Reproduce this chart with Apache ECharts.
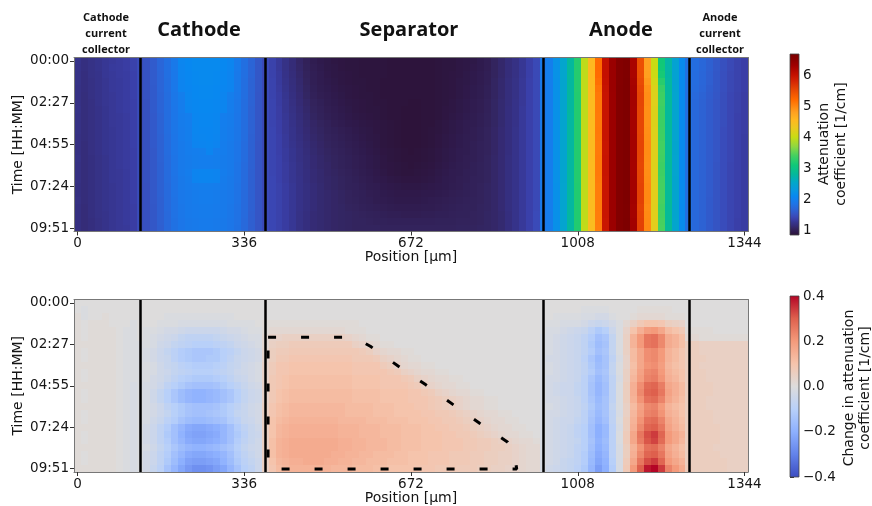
<!DOCTYPE html>
<html>
<head>
<meta charset="utf-8">
<script src="https://cdn.jsdelivr.net/npm/echarts@6/dist/echarts.min.js"></script>
<style>html,body{margin:0;padding:0;background:#fff}#chart{width:872px;height:506px}</style>
</head>
<body>
<div id="chart"></div>
<script>
// ---------- axes / ticks ----------
const positions = [0,14,28,42,56,70,84,98,112,126,140,154,168,182,196,210,224,238,252,266,280,294,308,322,336,350,364,378,392,406,420,434,448,462,476,490,504,518,532,546,560,574,588,602,616,630,644,658,672,686,700,714,728,742,756,770,784,798,812,826,840,854,868,882,896,910,924,938,952,966,980,994,1008,1022,1036,1050,1064,1078,1092,1106,1120,1134,1148,1162,1176,1190,1204,1218,1232,1246,1260,1274,1288,1302,1316,1330,1344];
const frameTimes = [0,24.6,49.2,73.8,98.4,123,147.6,172.2,196.8,221.4,246,270.6,295.2,319.8,344.4,369,393.6,418.2,442.8,467.4,492,516.6,541.2,565.8,590.4];
const positionTicks = [0,336,672,1008,1344];
const timeTickValues = [0,147.75,295.5,443.25,591];
const timeTickLabels = ['00:00','02:27','04:55','07:24','09:51'];
const attnTicks = [1,2,3,4,5,6];
const changeTicks = [-0.4,-0.2,0,0.2,0.4];
const changeTickLabels = ['\u22120.4','\u22120.2','0.0','0.2','0.4'];
const boundaryPositions = [126,378,938,1232];
const regionTitles = ['Cathode','Separator','Anode'];
const collectorTitles = ['Cathode\ncurrent\ncollector','Anode\ncurrent\ncollector'];
// dashed outline in the lower panel: [position µm, time min]
const outlinePath = [[384,122.5],[539,122.5],[565,129.6],[590,154.3],[646,224.9],[702,292],[757,362.6],[811,429.7],[867,496.8],[879,525],[885,592],[384,592],[384,122.5]];

// ---------- attenuation coefficient [1/cm] (rows = frames, cols = positions) ----------
const attnCathodeCC = [
[1.24,1.19,1.22,1.25,1.28,1.30,1.32,1.34,1.38],
[1.23,1.19,1.22,1.25,1.28,1.31,1.32,1.34,1.38],
[1.22,1.18,1.22,1.24,1.28,1.30,1.32,1.33,1.37],
[1.22,1.18,1.21,1.24,1.27,1.30,1.31,1.33,1.37],
[1.21,1.18,1.21,1.24,1.27,1.30,1.31,1.33,1.37],
[1.21,1.17,1.21,1.24,1.27,1.29,1.31,1.33,1.37],
[1.21,1.17,1.20,1.24,1.27,1.29,1.31,1.33,1.36],
[1.22,1.17,1.20,1.23,1.26,1.29,1.31,1.33,1.36],
[1.21,1.17,1.20,1.23,1.26,1.29,1.30,1.32,1.36],
[1.21,1.17,1.20,1.23,1.26,1.29,1.30,1.32,1.36],
[1.21,1.17,1.20,1.23,1.26,1.28,1.30,1.32,1.36],
[1.20,1.17,1.20,1.23,1.26,1.28,1.30,1.32,1.36],
[1.20,1.16,1.20,1.23,1.26,1.28,1.30,1.32,1.36],
[1.20,1.16,1.20,1.23,1.26,1.28,1.30,1.32,1.35],
[1.21,1.16,1.19,1.22,1.25,1.28,1.30,1.32,1.35],
[1.20,1.16,1.19,1.22,1.25,1.28,1.30,1.32,1.35],
[1.20,1.16,1.19,1.22,1.25,1.28,1.29,1.31,1.35],
[1.20,1.16,1.19,1.22,1.25,1.28,1.29,1.31,1.35],
[1.19,1.16,1.19,1.22,1.25,1.27,1.29,1.31,1.35],
[1.19,1.16,1.19,1.22,1.25,1.27,1.29,1.31,1.35],
[1.20,1.16,1.19,1.22,1.25,1.27,1.29,1.31,1.35],
[1.19,1.15,1.19,1.22,1.25,1.27,1.29,1.31,1.34],
[1.19,1.15,1.19,1.22,1.24,1.27,1.29,1.31,1.34],
[1.19,1.15,1.18,1.21,1.24,1.27,1.29,1.31,1.34],
[1.19,1.15,1.18,1.21,1.24,1.27,1.29,1.30,1.34]];
const attnCathode = [
[1.46,1.52,1.60,1.70,1.80,1.91,2.07,2.10,2.12,2.13,2.13,2.12,2.10,2.06,1.92,1.80,1.68,1.56],
[1.46,1.52,1.60,1.70,1.80,1.91,2.06,2.10,2.12,2.13,2.13,2.12,2.10,2.06,1.92,1.80,1.68,1.56],
[1.46,1.52,1.60,1.69,1.80,1.90,2.06,2.09,2.11,2.12,2.12,2.11,2.09,2.05,1.91,1.80,1.68,1.56],
[1.46,1.52,1.60,1.69,1.79,1.90,2.05,2.09,2.11,2.12,2.12,2.11,2.09,2.05,1.91,1.79,1.67,1.56],
[1.46,1.52,1.59,1.69,1.79,1.90,2.05,2.08,2.10,2.11,2.11,2.10,2.08,2.05,1.91,1.79,1.67,1.56],
[1.46,1.52,1.59,1.68,1.78,1.89,1.97,2.07,2.10,2.11,2.11,2.10,2.06,1.97,1.90,1.79,1.67,1.55],
[1.46,1.51,1.59,1.68,1.78,1.89,1.96,2.07,2.09,2.10,2.10,2.09,2.06,1.96,1.89,1.78,1.67,1.55],
[1.46,1.51,1.59,1.68,1.78,1.88,1.96,2.06,2.09,2.10,2.10,2.09,2.06,1.96,1.89,1.78,1.66,1.55],
[1.46,1.51,1.58,1.67,1.77,1.88,1.95,1.98,2.08,2.09,2.09,2.08,1.98,1.95,1.88,1.78,1.66,1.55],
[1.46,1.51,1.58,1.67,1.77,1.87,1.95,1.98,2.07,2.09,2.09,2.07,1.98,1.95,1.88,1.77,1.66,1.55],
[1.46,1.51,1.58,1.67,1.77,1.87,1.94,1.97,2.07,2.08,2.08,2.07,1.97,1.94,1.87,1.77,1.66,1.55],
[1.46,1.51,1.58,1.66,1.76,1.86,1.94,1.97,2.06,2.07,2.08,2.06,1.97,1.94,1.87,1.77,1.65,1.55],
[1.46,1.51,1.58,1.66,1.76,1.86,1.93,1.96,2.05,2.06,2.07,2.05,1.96,1.93,1.86,1.76,1.65,1.54],
[1.46,1.51,1.57,1.66,1.76,1.86,1.93,1.96,1.98,1.99,2.06,1.98,1.96,1.93,1.86,1.76,1.65,1.54],
[1.46,1.51,1.57,1.66,1.75,1.85,1.92,1.95,1.97,1.98,1.98,1.97,1.95,1.92,1.86,1.76,1.65,1.54],
[1.46,1.51,1.57,1.65,1.75,1.85,1.92,1.95,1.97,1.98,1.98,1.97,1.95,1.92,1.85,1.75,1.65,1.54],
[1.46,1.51,1.57,1.65,1.75,1.85,1.92,1.96,2.05,2.06,2.06,2.05,1.96,1.92,1.85,1.75,1.64,1.54],
[1.46,1.51,1.57,1.65,1.75,1.84,1.91,1.95,2.05,2.06,2.06,2.05,1.95,1.91,1.85,1.75,1.64,1.54],
[1.46,1.50,1.57,1.65,1.74,1.84,1.91,1.94,1.96,1.97,1.97,1.96,1.94,1.91,1.84,1.75,1.64,1.54],
[1.46,1.50,1.57,1.65,1.74,1.84,1.90,1.93,1.95,1.96,1.96,1.95,1.93,1.90,1.84,1.74,1.64,1.54],
[1.46,1.50,1.57,1.64,1.74,1.83,1.90,1.93,1.95,1.96,1.96,1.95,1.93,1.90,1.84,1.74,1.64,1.54],
[1.46,1.50,1.56,1.64,1.74,1.83,1.89,1.92,1.94,1.95,1.95,1.94,1.92,1.89,1.83,1.74,1.64,1.54],
[1.46,1.50,1.56,1.64,1.73,1.83,1.89,1.92,1.94,1.95,1.95,1.94,1.92,1.89,1.83,1.74,1.63,1.54],
[1.46,1.50,1.56,1.64,1.73,1.82,1.88,1.91,1.93,1.94,1.94,1.93,1.91,1.88,1.83,1.73,1.63,1.54],
[1.46,1.50,1.56,1.63,1.73,1.82,1.88,1.91,1.93,1.94,1.94,1.93,1.91,1.88,1.82,1.73,1.63,1.54]];
const attnSeparator = [
[1.45,1.38,1.30,1.22,1.15,1.08,1.02,0.98,0.95,0.93,0.91,0.90,0.89,0.89,0.88,0.88,0.88,0.88,0.87,0.87,0.87,0.87,0.87,0.87,0.87,0.88,0.89,0.89,0.91,0.92,0.93,0.96,0.99,1.05,1.10,1.16,1.21,1.28,1.36,1.44],
[1.45,1.38,1.30,1.22,1.15,1.09,1.03,0.99,0.96,0.93,0.92,0.90,0.89,0.89,0.88,0.88,0.88,0.88,0.87,0.87,0.87,0.87,0.87,0.87,0.87,0.88,0.89,0.89,0.91,0.92,0.94,0.96,0.99,1.05,1.10,1.16,1.21,1.28,1.36,1.44],
[1.45,1.38,1.31,1.23,1.16,1.10,1.04,1.00,0.97,0.94,0.92,0.91,0.90,0.89,0.88,0.88,0.88,0.88,0.87,0.87,0.87,0.87,0.87,0.87,0.87,0.88,0.89,0.90,0.91,0.93,0.95,0.97,1.00,1.05,1.10,1.16,1.21,1.28,1.36,1.44],
[1.45,1.39,1.31,1.24,1.17,1.11,1.05,1.00,0.97,0.95,0.93,0.91,0.90,0.89,0.89,0.88,0.88,0.87,0.87,0.87,0.87,0.87,0.87,0.87,0.87,0.88,0.89,0.90,0.92,0.93,0.95,0.97,1.00,1.06,1.11,1.17,1.22,1.29,1.37,1.44],
[1.45,1.39,1.32,1.25,1.18,1.12,1.06,1.01,0.98,0.96,0.94,0.92,0.91,0.90,0.89,0.88,0.88,0.87,0.87,0.87,0.87,0.87,0.87,0.87,0.87,0.88,0.89,0.90,0.92,0.94,0.96,0.98,1.01,1.06,1.11,1.17,1.22,1.29,1.37,1.44],
[1.45,1.39,1.33,1.26,1.19,1.13,1.07,1.02,0.99,0.97,0.95,0.93,0.91,0.90,0.89,0.89,0.88,0.87,0.87,0.87,0.87,0.87,0.87,0.87,0.87,0.88,0.89,0.90,0.92,0.94,0.96,0.98,1.01,1.06,1.11,1.17,1.22,1.29,1.37,1.44],
[1.45,1.40,1.33,1.27,1.20,1.14,1.09,1.04,1.01,0.98,0.96,0.94,0.92,0.91,0.90,0.89,0.88,0.88,0.87,0.87,0.87,0.86,0.86,0.87,0.87,0.88,0.89,0.91,0.93,0.95,0.97,0.99,1.02,1.07,1.12,1.17,1.23,1.29,1.37,1.44],
[1.45,1.40,1.34,1.27,1.21,1.15,1.10,1.05,1.02,0.99,0.97,0.95,0.93,0.91,0.90,0.89,0.89,0.88,0.87,0.87,0.86,0.86,0.86,0.87,0.87,0.88,0.90,0.91,0.93,0.95,0.97,0.99,1.02,1.07,1.12,1.18,1.23,1.30,1.37,1.44],
[1.45,1.40,1.34,1.28,1.22,1.16,1.11,1.06,1.03,1.00,0.98,0.96,0.94,0.92,0.91,0.90,0.89,0.88,0.87,0.87,0.86,0.86,0.86,0.87,0.87,0.88,0.90,0.92,0.94,0.96,0.98,1.00,1.03,1.07,1.12,1.18,1.23,1.30,1.37,1.44],
[1.45,1.40,1.35,1.29,1.23,1.17,1.12,1.08,1.05,1.02,0.99,0.97,0.95,0.94,0.92,0.91,0.90,0.89,0.88,0.87,0.86,0.86,0.86,0.87,0.87,0.89,0.91,0.93,0.95,0.97,0.98,1.00,1.03,1.07,1.12,1.18,1.23,1.30,1.37,1.44],
[1.45,1.41,1.35,1.29,1.24,1.18,1.13,1.09,1.06,1.03,1.01,0.99,0.97,0.95,0.93,0.92,0.90,0.89,0.88,0.87,0.86,0.86,0.86,0.87,0.88,0.89,0.91,0.93,0.95,0.97,0.99,1.01,1.04,1.08,1.13,1.18,1.24,1.30,1.37,1.44],
[1.45,1.41,1.36,1.30,1.24,1.19,1.14,1.10,1.07,1.04,1.02,1.00,0.98,0.96,0.94,0.92,0.91,0.89,0.88,0.87,0.86,0.86,0.86,0.87,0.88,0.90,0.92,0.94,0.96,0.98,0.99,1.01,1.04,1.08,1.13,1.18,1.24,1.30,1.37,1.44],
[1.45,1.41,1.36,1.30,1.25,1.20,1.15,1.11,1.08,1.05,1.03,1.01,0.99,0.97,0.95,0.93,0.91,0.89,0.88,0.87,0.86,0.86,0.86,0.87,0.88,0.90,0.92,0.94,0.96,0.98,1.00,1.02,1.04,1.08,1.13,1.18,1.24,1.30,1.37,1.44],
[1.45,1.41,1.36,1.31,1.26,1.21,1.16,1.12,1.09,1.06,1.04,1.02,1.00,0.98,0.96,0.94,0.92,0.90,0.89,0.88,0.87,0.86,0.87,0.88,0.89,0.91,0.93,0.95,0.97,0.98,1.00,1.02,1.04,1.08,1.13,1.18,1.24,1.30,1.37,1.44],
[1.45,1.41,1.37,1.31,1.26,1.21,1.17,1.13,1.10,1.07,1.05,1.03,1.01,0.99,0.97,0.95,0.93,0.91,0.89,0.88,0.87,0.87,0.87,0.88,0.89,0.91,0.93,0.95,0.97,0.99,1.00,1.02,1.05,1.09,1.13,1.19,1.24,1.30,1.37,1.44],
[1.45,1.41,1.37,1.32,1.27,1.22,1.17,1.13,1.10,1.08,1.05,1.03,1.01,0.99,0.97,0.95,0.93,0.91,0.90,0.89,0.88,0.87,0.88,0.89,0.90,0.92,0.94,0.96,0.98,0.99,1.01,1.03,1.05,1.09,1.13,1.19,1.24,1.30,1.37,1.44],
[1.45,1.41,1.37,1.32,1.27,1.22,1.18,1.14,1.11,1.08,1.06,1.04,1.02,1.00,0.98,0.96,0.94,0.92,0.90,0.89,0.88,0.88,0.89,0.90,0.91,0.93,0.95,0.97,0.98,1.00,1.01,1.03,1.05,1.09,1.13,1.19,1.24,1.30,1.37,1.44],
[1.45,1.42,1.37,1.32,1.27,1.23,1.18,1.14,1.11,1.09,1.07,1.05,1.03,1.01,0.99,0.97,0.95,0.94,0.92,0.91,0.90,0.90,0.90,0.91,0.92,0.94,0.96,0.97,0.99,1.00,1.02,1.03,1.05,1.09,1.13,1.19,1.24,1.30,1.37,1.44],
[1.45,1.42,1.38,1.33,1.28,1.23,1.19,1.15,1.12,1.09,1.07,1.05,1.03,1.02,1.00,0.98,0.97,0.95,0.94,0.93,0.92,0.92,0.92,0.93,0.94,0.95,0.96,0.98,0.99,1.01,1.02,1.04,1.06,1.09,1.13,1.19,1.24,1.30,1.37,1.44],
[1.45,1.42,1.38,1.33,1.28,1.23,1.19,1.15,1.12,1.10,1.08,1.06,1.04,1.02,1.01,0.99,0.98,0.96,0.95,0.94,0.94,0.94,0.94,0.95,0.95,0.96,0.97,0.99,1.00,1.01,1.02,1.04,1.06,1.09,1.13,1.19,1.24,1.30,1.37,1.44],
[1.45,1.42,1.38,1.33,1.28,1.23,1.19,1.15,1.12,1.10,1.08,1.06,1.04,1.03,1.01,1.00,0.98,0.97,0.96,0.95,0.95,0.95,0.95,0.96,0.97,0.98,0.99,1.00,1.01,1.02,1.03,1.04,1.06,1.09,1.13,1.19,1.24,1.30,1.37,1.44],
[1.45,1.42,1.38,1.33,1.28,1.23,1.19,1.15,1.12,1.10,1.08,1.07,1.05,1.04,1.02,1.01,1.00,0.99,0.98,0.97,0.97,0.97,0.97,0.98,0.98,0.99,1.00,1.01,1.02,1.03,1.03,1.05,1.06,1.09,1.13,1.19,1.24,1.30,1.37,1.44],
[1.45,1.42,1.38,1.33,1.28,1.22,1.18,1.14,1.12,1.10,1.08,1.07,1.06,1.05,1.04,1.03,1.02,1.01,1.00,1.00,0.99,0.99,0.99,1.00,1.00,1.01,1.01,1.02,1.03,1.03,1.04,1.05,1.07,1.09,1.12,1.18,1.24,1.30,1.37,1.45],
[1.45,1.42,1.38,1.33,1.28,1.22,1.18,1.14,1.12,1.10,1.08,1.07,1.06,1.05,1.05,1.04,1.03,1.03,1.02,1.02,1.02,1.02,1.02,1.02,1.02,1.03,1.03,1.03,1.04,1.04,1.04,1.05,1.07,1.09,1.12,1.18,1.24,1.30,1.37,1.45],
[1.45,1.42,1.38,1.33,1.28,1.22,1.18,1.14,1.12,1.10,1.08,1.07,1.06,1.05,1.05,1.05,1.05,1.04,1.04,1.04,1.04,1.04,1.04,1.04,1.04,1.04,1.04,1.04,1.05,1.05,1.05,1.06,1.07,1.09,1.12,1.18,1.24,1.30,1.37,1.45]];
const attnAnode = [
[1.90,1.97,2.22,2.50,2.80,3.22,3.95,4.55,5.20,6.00,6.35,6.55,6.60,6.22,5.45,4.80,4.00,3.10,2.75,2.45,2.12],
[1.90,1.97,2.22,2.50,2.80,3.22,3.95,4.55,5.20,6.00,6.35,6.55,6.60,6.22,5.45,4.80,4.01,3.11,2.75,2.45,2.12],
[1.90,1.97,2.22,2.50,2.80,3.22,3.95,4.55,5.19,6.00,6.35,6.55,6.60,6.22,5.46,4.81,4.02,3.14,2.76,2.45,2.12],
[1.90,1.97,2.21,2.49,2.79,3.22,3.95,4.54,5.16,5.99,6.35,6.55,6.61,6.24,5.49,4.86,4.08,3.24,2.78,2.46,2.12],
[1.89,1.96,2.21,2.49,2.79,3.22,3.95,4.52,5.12,5.97,6.35,6.56,6.62,6.26,5.52,4.91,4.15,3.33,2.80,2.47,2.13],
[1.89,1.96,2.21,2.49,2.79,3.21,3.95,4.51,5.10,5.96,6.34,6.56,6.62,6.27,5.54,4.93,4.17,3.36,2.81,2.48,2.13],
[1.89,1.96,2.21,2.49,2.79,3.21,3.95,4.51,5.10,5.96,6.34,6.56,6.62,6.27,5.54,4.93,4.18,3.37,2.81,2.48,2.13],
[1.89,1.96,2.21,2.49,2.79,3.21,3.95,4.51,5.10,5.96,6.34,6.56,6.62,6.26,5.53,4.92,4.16,3.35,2.81,2.48,2.13],
[1.89,1.96,2.21,2.49,2.78,3.21,3.95,4.50,5.09,5.96,6.34,6.56,6.62,6.26,5.53,4.92,4.16,3.35,2.81,2.48,2.13],
[1.89,1.96,2.21,2.49,2.78,3.21,3.95,4.51,5.09,5.96,6.34,6.56,6.62,6.26,5.53,4.92,4.16,3.35,2.81,2.48,2.13],
[1.89,1.96,2.21,2.49,2.78,3.21,3.95,4.51,5.10,5.96,6.34,6.56,6.62,6.26,5.53,4.93,4.17,3.36,2.81,2.48,2.13],
[1.89,1.96,2.21,2.49,2.78,3.21,3.95,4.50,5.09,5.96,6.34,6.56,6.62,6.27,5.54,4.94,4.18,3.37,2.82,2.48,2.13],
[1.89,1.96,2.21,2.49,2.78,3.21,3.95,4.50,5.08,5.95,6.34,6.56,6.62,6.27,5.55,4.95,4.19,3.39,2.82,2.49,2.13],
[1.89,1.96,2.21,2.49,2.78,3.21,3.95,4.50,5.08,5.95,6.34,6.56,6.62,6.27,5.55,4.95,4.19,3.39,2.82,2.49,2.13],
[1.89,1.96,2.21,2.49,2.78,3.21,3.95,4.50,5.09,5.96,6.34,6.56,6.62,6.27,5.54,4.94,4.18,3.38,2.82,2.48,2.13],
[1.89,1.96,2.21,2.49,2.78,3.21,3.95,4.51,5.09,5.96,6.34,6.56,6.62,6.26,5.53,4.93,4.17,3.36,2.81,2.48,2.13],
[1.89,1.96,2.21,2.49,2.78,3.21,3.95,4.50,5.09,5.96,6.34,6.56,6.62,6.26,5.54,4.94,4.18,3.37,2.82,2.48,2.13],
[1.89,1.96,2.21,2.49,2.78,3.21,3.95,4.50,5.08,5.95,6.34,6.56,6.62,6.27,5.55,4.95,4.19,3.39,2.82,2.49,2.13],
[1.89,1.96,2.20,2.48,2.78,3.20,3.95,4.50,5.07,5.95,6.34,6.56,6.62,6.27,5.56,4.96,4.20,3.40,2.83,2.49,2.14],
[1.89,1.96,2.20,2.48,2.78,3.20,3.95,4.50,5.07,5.95,6.34,6.56,6.63,6.28,5.57,4.97,4.21,3.41,2.83,2.49,2.14],
[1.89,1.96,2.20,2.48,2.78,3.20,3.95,4.50,5.07,5.95,6.34,6.56,6.63,6.28,5.57,4.97,4.21,3.41,2.83,2.49,2.14],
[1.89,1.96,2.20,2.48,2.78,3.20,3.95,4.50,5.07,5.95,6.34,6.56,6.62,6.27,5.55,4.95,4.19,3.39,2.82,2.49,2.13],
[1.89,1.95,2.20,2.48,2.78,3.20,3.95,4.49,5.06,5.95,6.34,6.56,6.62,6.27,5.56,4.96,4.20,3.40,2.83,2.49,2.14],
[1.89,1.95,2.20,2.48,2.78,3.20,3.95,4.49,5.06,5.94,6.34,6.57,6.63,6.28,5.57,4.97,4.21,3.41,2.83,2.50,2.14],
[1.89,1.95,2.20,2.48,2.78,3.20,3.96,4.49,5.05,5.94,6.34,6.57,6.63,6.29,5.58,4.98,4.22,3.42,2.84,2.50,2.14]];
const attnAnodeCC = [
[1.82,1.77,1.71,1.64,1.57,1.50,1.44,1.39,1.35],
[1.82,1.77,1.71,1.64,1.57,1.50,1.44,1.39,1.35],
[1.82,1.76,1.70,1.63,1.56,1.49,1.43,1.39,1.35],
[1.81,1.76,1.70,1.63,1.56,1.49,1.43,1.39,1.35],
[1.81,1.75,1.69,1.62,1.56,1.49,1.43,1.39,1.35],
[1.80,1.73,1.67,1.61,1.55,1.48,1.42,1.38,1.34],
[1.80,1.72,1.66,1.60,1.54,1.48,1.42,1.38,1.34],
[1.80,1.72,1.66,1.60,1.54,1.48,1.42,1.38,1.34],
[1.80,1.72,1.66,1.60,1.54,1.48,1.42,1.37,1.34],
[1.80,1.72,1.66,1.60,1.54,1.48,1.42,1.37,1.34],
[1.80,1.72,1.66,1.60,1.54,1.47,1.42,1.37,1.34],
[1.80,1.72,1.66,1.60,1.54,1.47,1.42,1.37,1.33],
[1.80,1.72,1.66,1.60,1.54,1.47,1.42,1.37,1.33],
[1.80,1.72,1.66,1.60,1.54,1.47,1.42,1.37,1.33],
[1.80,1.72,1.66,1.60,1.54,1.47,1.42,1.37,1.33],
[1.80,1.72,1.66,1.60,1.53,1.47,1.41,1.37,1.33],
[1.80,1.72,1.66,1.60,1.53,1.47,1.41,1.37,1.33],
[1.80,1.72,1.66,1.60,1.53,1.47,1.41,1.37,1.33],
[1.80,1.72,1.66,1.60,1.53,1.47,1.41,1.37,1.33],
[1.80,1.72,1.66,1.60,1.53,1.47,1.41,1.37,1.33],
[1.80,1.72,1.66,1.59,1.53,1.47,1.41,1.37,1.33],
[1.80,1.72,1.66,1.59,1.53,1.47,1.41,1.37,1.33],
[1.80,1.72,1.66,1.59,1.53,1.47,1.41,1.37,1.33],
[1.80,1.72,1.66,1.59,1.53,1.47,1.41,1.36,1.33],
[1.80,1.72,1.66,1.59,1.53,1.47,1.41,1.36,1.33]];

// ---------- change in attenuation coefficient [1/cm] ----------
const changeCathodeCC = [
[0,0,0,0,0,0,0,0,0],
[0,-0.01,0,0,0,0,0,0,0],
[0.01,-0.01,0,0,0.01,0,0,0,0],
[0.01,0,0.01,0.01,0.01,0,0,0,-0.01],
[0.01,0,0.01,0.01,0.01,0.01,0,-0.01,-0.01],
[0.01,0,0.01,0.01,0.01,0.01,0,-0.01,-0.01],
[0.01,0.01,0.01,0.01,0.01,0.01,0,-0.01,-0.01],
[0.01,0,0.01,0.01,0.01,0.01,0,-0.01,-0.01],
[0.01,0,0.01,0.01,0.01,0.01,0,-0.01,-0.01],
[0.01,0.01,0.01,0.01,0.01,0.01,0,-0.01,-0.01],
[0.01,0,0.01,0.01,0.01,0.01,0,-0.01,-0.01],
[0.01,0,0.01,0.01,0.01,0.01,0,-0.01,-0.01],
[0.01,0.01,0.01,0.01,0.01,0.01,0,-0.01,-0.02],
[0.01,0,0.01,0.01,0.01,0.01,0,-0.01,-0.02],
[0.01,0,0.01,0.01,0.01,0.01,0,-0.01,-0.02],
[0.01,0.01,0.01,0.01,0.01,0.01,0,-0.01,-0.02],
[0.01,0,0.01,0.01,0.01,0.01,0,-0.01,-0.02],
[0.01,0,0.01,0.01,0.01,0.01,0,-0.01,-0.02],
[0.01,0.01,0.01,0.01,0.01,0.01,0,-0.01,-0.02],
[0.01,0,0.01,0.01,0.01,0.01,0,-0.01,-0.02],
[0.01,0,0.01,0.01,0.01,0.01,0,-0.01,-0.02],
[0.01,0.01,0.01,0.01,0.01,0.01,0,-0.01,-0.02],
[0.01,0,0.01,0.01,0.01,0.01,0,-0.01,-0.02],
[0.01,0,0.01,0.01,0.01,0.01,0,-0.01,-0.02],
[0.01,0.01,0.01,0.01,0.01,0.01,0,-0.01,-0.02]];
const changeCathode = [
[0,0,0,0,0,0,0,0,0,0,0,0,0,0,0,0,0,0],
[0,0,0,0,0,0,0,0,0,0,0,0,0,0,0,0,0,0],
[0,0,0,0,-0.01,-0.01,-0.01,-0.01,-0.01,-0.01,-0.01,-0.01,-0.01,-0.01,0,0,0,0],
[0,0,0,-0.01,-0.01,-0.01,-0.02,-0.02,-0.02,-0.02,-0.02,-0.02,-0.02,-0.01,-0.01,-0.01,-0.01,0],
[0,-0.01,-0.01,-0.02,-0.03,-0.03,-0.04,-0.05,-0.05,-0.05,-0.05,-0.05,-0.04,-0.03,-0.03,-0.02,-0.01,-0.01],
[0,-0.01,-0.02,-0.03,-0.04,-0.05,-0.07,-0.08,-0.08,-0.08,-0.08,-0.07,-0.06,-0.05,-0.04,-0.03,-0.02,-0.02],
[-0.01,-0.01,-0.02,-0.04,-0.05,-0.07,-0.08,-0.09,-0.1,-0.1,-0.1,-0.09,-0.08,-0.07,-0.05,-0.04,-0.03,-0.02],
[-0.01,-0.02,-0.03,-0.05,-0.07,-0.09,-0.11,-0.12,-0.13,-0.13,-0.13,-0.12,-0.1,-0.09,-0.07,-0.05,-0.04,-0.03],
[-0.01,-0.02,-0.03,-0.05,-0.06,-0.09,-0.11,-0.12,-0.13,-0.13,-0.12,-0.12,-0.1,-0.08,-0.06,-0.05,-0.04,-0.03],
[-0.01,-0.01,-0.02,-0.04,-0.06,-0.07,-0.09,-0.1,-0.11,-0.11,-0.11,-0.1,-0.09,-0.07,-0.06,-0.04,-0.03,-0.02],
[-0.01,-0.01,-0.02,-0.04,-0.05,-0.07,-0.08,-0.09,-0.1,-0.1,-0.1,-0.09,-0.08,-0.07,-0.05,-0.04,-0.03,-0.02],
[-0.01,-0.01,-0.03,-0.04,-0.06,-0.08,-0.1,-0.11,-0.12,-0.12,-0.12,-0.11,-0.1,-0.08,-0.06,-0.05,-0.03,-0.02],
[-0.01,-0.02,-0.03,-0.05,-0.08,-0.1,-0.12,-0.14,-0.15,-0.15,-0.15,-0.14,-0.12,-0.1,-0.08,-0.06,-0.04,-0.03],
[-0.01,-0.02,-0.04,-0.07,-0.1,-0.13,-0.16,-0.18,-0.19,-0.19,-0.18,-0.17,-0.15,-0.13,-0.1,-0.07,-0.05,-0.04],
[-0.01,-0.02,-0.04,-0.07,-0.1,-0.13,-0.16,-0.18,-0.19,-0.19,-0.18,-0.17,-0.15,-0.13,-0.1,-0.07,-0.05,-0.04],
[-0.01,-0.02,-0.03,-0.05,-0.08,-0.1,-0.12,-0.14,-0.15,-0.15,-0.15,-0.14,-0.12,-0.1,-0.08,-0.06,-0.04,-0.03],
[-0.01,-0.02,-0.03,-0.05,-0.07,-0.1,-0.12,-0.14,-0.15,-0.15,-0.14,-0.13,-0.12,-0.1,-0.07,-0.06,-0.04,-0.03],
[-0.01,-0.02,-0.04,-0.06,-0.09,-0.11,-0.14,-0.16,-0.17,-0.17,-0.16,-0.15,-0.14,-0.11,-0.09,-0.06,-0.05,-0.03],
[-0.01,-0.03,-0.05,-0.08,-0.11,-0.15,-0.18,-0.21,-0.22,-0.22,-0.21,-0.2,-0.18,-0.15,-0.11,-0.08,-0.06,-0.04],
[-0.01,-0.03,-0.05,-0.08,-0.12,-0.15,-0.19,-0.22,-0.23,-0.23,-0.22,-0.21,-0.18,-0.15,-0.12,-0.09,-0.06,-0.05],
[-0.01,-0.03,-0.05,-0.08,-0.11,-0.15,-0.18,-0.21,-0.22,-0.22,-0.21,-0.2,-0.18,-0.15,-0.11,-0.08,-0.06,-0.04],
[-0.01,-0.02,-0.04,-0.07,-0.1,-0.13,-0.16,-0.18,-0.19,-0.19,-0.18,-0.17,-0.15,-0.13,-0.1,-0.07,-0.05,-0.04],
[-0.01,-0.03,-0.05,-0.08,-0.11,-0.15,-0.18,-0.21,-0.22,-0.22,-0.21,-0.2,-0.18,-0.15,-0.11,-0.08,-0.06,-0.04],
[-0.01,-0.03,-0.05,-0.08,-0.12,-0.16,-0.2,-0.23,-0.24,-0.24,-0.23,-0.22,-0.19,-0.16,-0.12,-0.09,-0.07,-0.05],
[-0.01,-0.03,-0.06,-0.09,-0.14,-0.18,-0.22,-0.25,-0.27,-0.27,-0.26,-0.24,-0.22,-0.18,-0.14,-0.1,-0.08,-0.05]];
const changeSeparator = [
[0,0,0,0,0,0,0,0,0,0,0,0,0,0,0,0,0,0,0,0,0,0,0,0,0,0,0,0,0,0,0,0,0,0,0,0,0,0,0,0],
[0,0,0,0,0,0,0,0,0,0,0,0,0,0,0,0,0,0,0,0,0,0,0,0,0,0,0,0,0,0,0,0,0,0,0,0,0,0,0,0],
[0,0,0,0,0,0,0,0,0,0,0,0,0,0,0,0,0,0,0,0,0,0,0,0,0,0,0,0,0,0,0,0,0,0,0,0,0,0,0,0],
[0.01,0.01,0.01,0.01,0.01,0.01,0.01,0.01,0.01,0.01,0.01,0.01,0.01,0.01,0,0,0,0,0,0,0,0,0,0,0,0,0,0,0,0,0,0,0,0,0,0,0,0,0,0],
[0.01,0.02,0.02,0.02,0.02,0.02,0.02,0.02,0.02,0.02,0.02,0.02,0.01,0.01,0.01,0,0,0,0,0,0,0,0,0,0,0,0,0,0,0,0,0,0,0,0,0,0,0,0,0],
[0.02,0.04,0.04,0.05,0.05,0.05,0.05,0.05,0.05,0.05,0.05,0.05,0.04,0.03,0.02,0.01,0.01,0,0,0,0,0,0,0,0,0,0,0,0,0,0,0,0,0,0,0,0,0,0,0],
[0.02,0.05,0.06,0.06,0.07,0.07,0.07,0.07,0.07,0.07,0.07,0.07,0.07,0.05,0.04,0.03,0.02,0.01,0.01,0,0,0,0,0,0,0,0,0,0,0,0,0,0,0,0,0,0,0,0,0],
[0.03,0.06,0.07,0.07,0.08,0.08,0.08,0.08,0.08,0.08,0.08,0.08,0.08,0.08,0.07,0.06,0.04,0.03,0.02,0.02,0.01,0.01,0,0,0,0,0,0,0,0,0,0,0,0,0,0,0,0,0,0],
[0.03,0.06,0.08,0.08,0.09,0.09,0.09,0.09,0.09,0.09,0.09,0.09,0.09,0.08,0.08,0.08,0.07,0.05,0.04,0.03,0.02,0.01,0.01,0,0,0,0,0,0,0,0,0,0,0,0,0,0,0,0,0],
[0.04,0.07,0.09,0.09,0.1,0.1,0.1,0.1,0.1,0.1,0.1,0.1,0.1,0.09,0.09,0.09,0.09,0.07,0.06,0.04,0.03,0.02,0.02,0.01,0.01,0,0,0,0,0,0,0,0,0,0,0,0,0,0,0],
[0.04,0.07,0.09,0.09,0.1,0.1,0.1,0.1,0.1,0.1,0.1,0.1,0.1,0.09,0.09,0.09,0.09,0.09,0.08,0.07,0.05,0.04,0.03,0.02,0.02,0.01,0.01,0,0,0,0,0,0,0,0,0,0,0,0,0],
[0.04,0.08,0.09,0.1,0.11,0.11,0.11,0.11,0.11,0.11,0.11,0.11,0.11,0.1,0.1,0.1,0.1,0.09,0.09,0.09,0.08,0.07,0.05,0.04,0.03,0.02,0.02,0.01,0.01,0,0,0,0,0,0,0,0,0,0,0],
[0.04,0.08,0.09,0.1,0.11,0.11,0.11,0.11,0.11,0.11,0.11,0.11,0.11,0.1,0.1,0.1,0.1,0.09,0.09,0.09,0.09,0.08,0.07,0.05,0.04,0.03,0.02,0.02,0.01,0.01,0,0,0,0,0,0,0,0,0,0],
[0.04,0.08,0.1,0.11,0.12,0.12,0.12,0.12,0.12,0.12,0.12,0.12,0.12,0.11,0.11,0.11,0.11,0.1,0.1,0.1,0.1,0.09,0.09,0.08,0.07,0.05,0.04,0.03,0.02,0.02,0.01,0.01,0,0,0,0,0,0,0,0],
[0.04,0.08,0.1,0.11,0.12,0.12,0.12,0.12,0.12,0.12,0.12,0.12,0.12,0.11,0.11,0.11,0.11,0.1,0.1,0.1,0.1,0.09,0.09,0.09,0.08,0.07,0.06,0.05,0.04,0.03,0.02,0.02,0.01,0.01,0,0,0,0,0,0],
[0.05,0.09,0.11,0.12,0.13,0.13,0.13,0.13,0.13,0.13,0.13,0.13,0.12,0.12,0.12,0.12,0.11,0.11,0.11,0.1,0.1,0.1,0.09,0.09,0.08,0.07,0.06,0.05,0.04,0.03,0.02,0.02,0.01,0.01,0,0,0,0,0,0],
[0.05,0.09,0.11,0.12,0.13,0.13,0.13,0.13,0.13,0.13,0.13,0.13,0.12,0.12,0.12,0.12,0.11,0.11,0.11,0.1,0.1,0.1,0.1,0.09,0.09,0.08,0.08,0.07,0.06,0.05,0.04,0.03,0.02,0.02,0.01,0.01,0,0,0,0],
[0.05,0.1,0.12,0.13,0.14,0.14,0.14,0.14,0.14,0.14,0.14,0.13,0.13,0.13,0.13,0.12,0.12,0.12,0.11,0.11,0.11,0.1,0.1,0.1,0.09,0.09,0.08,0.08,0.07,0.06,0.05,0.04,0.03,0.02,0.02,0.01,0.01,0,0,0],
[0.05,0.1,0.13,0.14,0.15,0.15,0.15,0.15,0.15,0.15,0.15,0.14,0.14,0.14,0.13,0.13,0.13,0.12,0.12,0.12,0.11,0.11,0.11,0.1,0.1,0.09,0.09,0.08,0.08,0.07,0.06,0.05,0.04,0.03,0.02,0.02,0.01,0.01,0,0],
[0.05,0.1,0.13,0.14,0.15,0.15,0.15,0.15,0.15,0.15,0.15,0.14,0.14,0.14,0.13,0.13,0.13,0.12,0.12,0.12,0.11,0.11,0.11,0.1,0.1,0.1,0.09,0.09,0.08,0.08,0.07,0.06,0.05,0.04,0.03,0.02,0.02,0.01,0.01,0],
[0.05,0.11,0.14,0.15,0.16,0.16,0.16,0.16,0.16,0.16,0.16,0.15,0.15,0.14,0.14,0.13,0.13,0.13,0.12,0.12,0.11,0.11,0.11,0.1,0.1,0.1,0.09,0.09,0.09,0.08,0.08,0.07,0.07,0.06,0.05,0.04,0.03,0.02,0.02,0.01],
[0.05,0.11,0.14,0.15,0.16,0.16,0.16,0.16,0.16,0.16,0.16,0.15,0.15,0.14,0.14,0.13,0.13,0.13,0.12,0.12,0.11,0.11,0.11,0.1,0.1,0.1,0.09,0.09,0.09,0.08,0.08,0.07,0.07,0.06,0.06,0.05,0.04,0.03,0.02,0.02],
[0.05,0.11,0.14,0.15,0.16,0.16,0.16,0.16,0.16,0.16,0.15,0.15,0.14,0.14,0.13,0.13,0.12,0.12,0.12,0.11,0.11,0.1,0.1,0.1,0.09,0.09,0.09,0.08,0.08,0.08,0.07,0.07,0.06,0.06,0.05,0.05,0.04,0.03,0.02,0.02],
[0.05,0.1,0.13,0.14,0.15,0.15,0.16,0.16,0.16,0.15,0.15,0.14,0.14,0.13,0.13,0.12,0.12,0.12,0.11,0.11,0.11,0.1,0.1,0.1,0.09,0.09,0.09,0.08,0.08,0.08,0.07,0.07,0.06,0.06,0.05,0.05,0.04,0.03,0.02,0.02],
[0.05,0.09,0.12,0.13,0.14,0.14,0.14,0.14,0.14,0.14,0.13,0.13,0.13,0.12,0.12,0.12,0.11,0.11,0.1,0.1,0.1,0.1,0.09,0.09,0.09,0.08,0.08,0.08,0.07,0.07,0.07,0.06,0.06,0.05,0.05,0.04,0.04,0.03,0.02,0.02]];
const changeAnode = [
[0,0,0,0,0,0,0,0,0,0,0,0,0,0,0,0,0,0,0,0,0],
[0,0,0,0,0,0,-0.01,-0.01,-0.01,-0.01,0,0,0,0,0.01,0.01,0.01,0.01,0.01,0,0],
[0,0,-0.01,-0.01,-0.01,-0.01,-0.02,-0.02,-0.03,-0.03,-0.01,0,0,0.01,0.02,0.02,0.02,0.02,0.01,0.01,0.01],
[-0.01,-0.01,-0.01,-0.02,-0.02,-0.02,-0.03,-0.05,-0.06,-0.05,-0.03,-0.01,0.02,0.05,0.08,0.1,0.1,0.09,0.06,0.05,0.04],
[-0.01,-0.02,-0.02,-0.03,-0.04,-0.05,-0.06,-0.09,-0.12,-0.1,-0.05,-0.01,0.04,0.1,0.15,0.19,0.2,0.17,0.12,0.1,0.08],
[-0.02,-0.02,-0.03,-0.04,-0.05,-0.06,-0.08,-0.11,-0.15,-0.13,-0.07,-0.01,0.05,0.14,0.2,0.26,0.27,0.23,0.16,0.14,0.11],
[-0.02,-0.02,-0.03,-0.04,-0.05,-0.06,-0.08,-0.12,-0.16,-0.14,-0.07,-0.01,0.05,0.14,0.2,0.26,0.27,0.23,0.16,0.14,0.11],
[-0.02,-0.02,-0.03,-0.04,-0.05,-0.06,-0.08,-0.11,-0.15,-0.13,-0.07,-0.01,0.05,0.12,0.17,0.22,0.23,0.2,0.14,0.12,0.09],
[-0.02,-0.03,-0.03,-0.04,-0.05,-0.06,-0.09,-0.13,-0.17,-0.14,-0.08,-0.02,0.04,0.12,0.17,0.22,0.23,0.2,0.14,0.12,0.09],
[-0.02,-0.02,-0.03,-0.04,-0.05,-0.06,-0.08,-0.12,-0.16,-0.14,-0.07,-0.01,0.04,0.11,0.17,0.21,0.22,0.19,0.13,0.11,0.09],
[-0.02,-0.02,-0.03,-0.04,-0.05,-0.06,-0.08,-0.11,-0.15,-0.13,-0.07,-0.01,0.05,0.12,0.18,0.23,0.24,0.2,0.14,0.12,0.1],
[-0.02,-0.03,-0.03,-0.04,-0.05,-0.06,-0.09,-0.13,-0.17,-0.14,-0.08,-0.02,0.05,0.13,0.19,0.24,0.25,0.21,0.15,0.13,0.1],
[-0.02,-0.03,-0.04,-0.05,-0.05,-0.07,-0.09,-0.14,-0.18,-0.15,-0.08,-0.01,0.06,0.15,0.22,0.28,0.29,0.25,0.17,0.15,0.12],
[-0.02,-0.03,-0.04,-0.05,-0.05,-0.07,-0.09,-0.14,-0.18,-0.15,-0.08,-0.01,0.06,0.15,0.23,0.29,0.3,0.26,0.18,0.15,0.12],
[-0.02,-0.03,-0.03,-0.04,-0.05,-0.06,-0.09,-0.13,-0.17,-0.14,-0.08,-0.01,0.06,0.14,0.21,0.27,0.28,0.24,0.17,0.14,0.11],
[-0.02,-0.02,-0.03,-0.04,-0.05,-0.06,-0.08,-0.12,-0.16,-0.14,-0.07,-0.01,0.05,0.12,0.18,0.23,0.24,0.2,0.14,0.12,0.1],
[-0.02,-0.03,-0.03,-0.04,-0.05,-0.06,-0.09,-0.13,-0.17,-0.14,-0.08,-0.02,0.05,0.13,0.19,0.24,0.25,0.21,0.15,0.13,0.1],
[-0.02,-0.03,-0.04,-0.05,-0.05,-0.07,-0.09,-0.14,-0.18,-0.15,-0.08,-0.01,0.06,0.14,0.21,0.27,0.28,0.24,0.17,0.14,0.11],
[-0.02,-0.03,-0.04,-0.05,-0.06,-0.08,-0.1,-0.15,-0.2,-0.17,-0.09,-0.02,0.06,0.15,0.23,0.29,0.3,0.26,0.18,0.15,0.12],
[-0.02,-0.03,-0.04,-0.05,-0.06,-0.08,-0.1,-0.15,-0.2,-0.17,-0.09,-0.01,0.07,0.17,0.26,0.32,0.34,0.29,0.2,0.17,0.14],
[-0.02,-0.03,-0.04,-0.05,-0.06,-0.07,-0.1,-0.14,-0.19,-0.16,-0.09,-0.01,0.07,0.17,0.25,0.31,0.33,0.28,0.2,0.17,0.13],
[-0.02,-0.03,-0.04,-0.05,-0.06,-0.08,-0.1,-0.15,-0.2,-0.17,-0.09,-0.02,0.06,0.14,0.21,0.27,0.28,0.24,0.17,0.14,0.11],
[-0.02,-0.03,-0.04,-0.05,-0.06,-0.08,-0.11,-0.16,-0.21,-0.18,-0.09,-0.02,0.06,0.15,0.23,0.29,0.3,0.26,0.18,0.15,0.12],
[-0.02,-0.03,-0.04,-0.06,-0.07,-0.08,-0.11,-0.17,-0.22,-0.19,-0.1,-0.02,0.07,0.17,0.26,0.32,0.34,0.29,0.2,0.17,0.14],
[-0.02,-0.04,-0.05,-0.06,-0.07,-0.09,-0.12,-0.18,-0.24,-0.2,-0.11,-0.02,0.08,0.2,0.3,0.38,0.4,0.34,0.24,0.2,0.16]];
const changeAnodeCC = [
[0,0,0,0,0,0,0,0,0],
[0,0,0,0,0,0,0,0,0],
[0,0,0,0,0,0,0,0,0],
[0,0,0,0,0,0,0,0,0],
[0.01,0.01,0.01,0.01,0,0,0,0,0],
[0.02,0.02,0.01,0.01,0.01,0.01,0.01,0.01,0.01],
[0.06,0.06,0.05,0.05,0.05,0.05,0.05,0.05,0.05],
[0.06,0.06,0.05,0.05,0.05,0.05,0.05,0.05,0.05],
[0.06,0.06,0.06,0.05,0.05,0.05,0.05,0.05,0.05],
[0.06,0.06,0.05,0.05,0.05,0.05,0.05,0.05,0.05],
[0.06,0.06,0.06,0.05,0.05,0.05,0.05,0.05,0.05],
[0.06,0.06,0.06,0.05,0.05,0.05,0.05,0.05,0.05],
[0.06,0.06,0.06,0.06,0.05,0.05,0.05,0.05,0.05],
[0.06,0.06,0.06,0.06,0.05,0.05,0.05,0.05,0.05],
[0.06,0.06,0.06,0.05,0.05,0.05,0.05,0.05,0.05],
[0.06,0.06,0.06,0.05,0.05,0.05,0.05,0.05,0.05],
[0.06,0.06,0.06,0.06,0.05,0.05,0.05,0.05,0.05],
[0.06,0.06,0.06,0.06,0.05,0.05,0.05,0.05,0.05],
[0.06,0.06,0.06,0.06,0.06,0.05,0.05,0.05,0.05],
[0.06,0.06,0.06,0.06,0.06,0.05,0.05,0.05,0.05],
[0.06,0.06,0.06,0.06,0.06,0.05,0.05,0.05,0.05],
[0.06,0.06,0.06,0.06,0.05,0.05,0.05,0.05,0.05],
[0.06,0.06,0.06,0.06,0.06,0.05,0.05,0.05,0.05],
[0.06,0.06,0.06,0.06,0.06,0.06,0.05,0.05,0.05],
[0.07,0.06,0.06,0.06,0.06,0.06,0.05,0.05,0.05]];

// ---------- colour maps (value, colour) ----------
const attnColorStops = [[0.84,'#2c1236'],[0.95,'#2f1a4c'],[1.05,'#33245e'],[1.15,'#352c78'],[1.25,'#36348c'],[1.35,'#3a3ea6'],[1.45,'#3a4ab8'],[1.55,'#3456c6'],[1.70,'#2a66d8'],[1.85,'#1e74e6'],[2.00,'#1280ee'],[2.10,'#0888f0'],[2.30,'#0898e0'],[2.55,'#02a8c8'],[2.80,'#04b89c'],[3.10,'#10c878'],[3.40,'#44d060'],[3.70,'#90d840'],[4.00,'#c8dc14'],[4.30,'#ecc820'],[4.55,'#ffb820'],[4.80,'#ffa020'],[5.20,'#ff6a00'],[5.50,'#e84a04'],[5.80,'#d42404'],[6.00,'#c41000'],[6.30,'#a00000'],[6.50,'#880000'],[6.68,'#7a0000']];
const changeColorStops = [[-0.4,'#3b4cc0'],[-0.3,'#6282ea'],[-0.2,'#8db0fe'],[-0.1,'#b8d0f9'],[0,'#dddcdc'],[0.1,'#f5c4ac'],[0.2,'#f49a7b'],[0.3,'#de604d'],[0.4,'#b40426']];

// ---------- helpers ----------
function hexRgb(h){return [parseInt(h.slice(1,3),16),parseInt(h.slice(3,5),16),parseInt(h.slice(5,7),16)];}
function colorFor(stops,v){
  if(v<=stops[0][0]) return stops[0][1];
  if(v>=stops[stops.length-1][0]) return stops[stops.length-1][1];
  for(let i=1;i<stops.length;i++){
    if(v<=stops[i][0]){
      const a=stops[i-1], b=stops[i], t=(v-a[0])/(b[0]-a[0]);
      const ca=hexRgb(a[1]), cb=hexRgb(b[1]);
      return 'rgb('+ca.map((c,k)=>Math.round(c+(cb[k]-c)*t)).join(',')+')';
    }
  }
  return stops[stops.length-1][1];
}
function joinRegions(parts){
  const rows=[];
  for(let r=0;r<frameTimes.length;r++){ rows.push([].concat(...parts.map(p=>p[r]||[]))); }
  return rows;
}
function toCells(matrix){
  const out=[];
  matrix.forEach((row,r)=>row.forEach((v,i)=>{ if(i<positions.length) out.push([positions[i],frameTimes[r],v]); }));
  return out;
}
const attnCells = toCells(joinRegions([attnCathodeCC,attnCathode,attnSeparator,attnAnode,attnAnodeCC]));
const changeCells = toCells(joinRegions([changeCathodeCC,changeCathode,changeSeparator,changeAnode,changeAnodeCC]));

const halfW = (positions[1]-positions[0])/2;
const halfH = (frameTimes[1]-frameTimes[0])/2;
const xMin = positions[0]-halfW, xMax = positions[positions.length-1]+halfW;
const yMin = frameTimes[0]-halfH, yMax = frameTimes[frameTimes.length-1]+halfH;

function cellRenderer(stops){
  return function(params, api){
    const x=api.value(0), t=api.value(1), v=api.value(2);
    const p0=api.coord([x-halfW,t-halfH]), p1=api.coord([x+halfW,t+halfH]);
    const x0=Math.round(Math.min(p0[0],p1[0])), x1=Math.round(Math.max(p0[0],p1[0]));
    const y0=Math.round(Math.min(p0[1],p1[1])), y1=Math.round(Math.max(p0[1],p1[1]));
    return {type:'rect', shape:{x:x0,y:y0,width:x1-x0,height:y1-y0}, style:{fill:colorFor(stops,v), stroke:null}};
  };
}
function colorbarRenderer(stops){
  const lo=stops[0][0], hi=stops[stops.length-1][0];
  const grad=stops.map(s=>({offset:(hi-s[0])/(hi-lo), color:s[1]})).reverse();
  return function(params){
    const cs=params.coordSys;
    return {type:'rect', shape:{x:cs.x,y:cs.y,width:cs.width,height:cs.height},
      style:{fill:new echarts.graphic.LinearGradient(0,0,0,1,grad), stroke:'#444', lineWidth:0.8}};
  };
}

const FONT='DejaVu Sans';
const TXT='#151515';
const FRAME='#777';
function posAxis(gi){
  return {type:'value', gridIndex:gi, min:xMin, max:xMax, z:10,
    name:'Position [\u00b5m]', nameLocation:'middle', nameGap:19, nameMoveOverlap:false,
    nameTextStyle:{fontFamily:FONT, fontSize:14, color:TXT},
    axisLine:{show:true, onZero:false, lineStyle:{color:FRAME, width:1}},
    axisTick:{show:true, length:4, customValues:positionTicks, lineStyle:{color:'#333'}},
    axisLabel:{customValues:positionTicks, fontFamily:FONT, fontSize:13.5, color:TXT, margin:5, formatter:function(v){return String(Math.round(v));}},
    splitLine:{show:false}};
}
function timeAxis(gi){
  return {type:'value', gridIndex:gi, min:yMin, max:yMax, inverse:true, z:10,
    name:'Time [HH:MM]', nameLocation:'middle', nameGap:49, nameMoveOverlap:false,
    nameTextStyle:{fontFamily:FONT, fontSize:14, color:TXT},
    axisLine:{show:true, onZero:false, lineStyle:{color:FRAME, width:1}},
    axisTick:{show:true, length:4, customValues:timeTickValues, lineStyle:{color:'#333'}},
    axisLabel:{customValues:timeTickValues, fontFamily:FONT, fontSize:13.5, color:TXT, margin:5,
      formatter:function(v){ let best=0; timeTickValues.forEach((t,i)=>{ if(Math.abs(t-v)<Math.abs(timeTickValues[best]-v)) best=i; }); return timeTickLabels[best]; }},
    splitLine:{show:false}};
}
function frameX(gi){ return {type:'value', gridIndex:gi, position:'top', min:0, max:1, z:10, axisLine:{show:true,onZero:false,lineStyle:{color:FRAME,width:1}}, axisTick:{show:false}, axisLabel:{show:false}, splitLine:{show:false}}; }
function frameY(gi){ return {type:'value', gridIndex:gi, position:'right', min:0, max:1, z:10, axisLine:{show:true,onZero:false,lineStyle:{color:FRAME,width:1}}, axisTick:{show:false}, axisLabel:{show:false}, splitLine:{show:false}}; }
function cbarX(gi){ return {type:'value', gridIndex:gi, min:0, max:1, show:false}; }
function cbarY(gi, stops, ticks, labels){
  return {type:'value', gridIndex:gi, position:'right', min:stops[0][0], max:stops[stops.length-1][0],
    axisLine:{show:false}, splitLine:{show:false},
    axisTick:{show:true, length:4, customValues:ticks, lineStyle:{color:'#333'}},
    axisLabel:{customValues:ticks, fontFamily:FONT, fontSize:13.5, color:TXT, margin:4,
      formatter:function(v){ if(!labels) return String(v); let best=0; ticks.forEach((t,i)=>{ if(Math.abs(t-v)<Math.abs(ticks[best]-v)) best=i; }); return labels[best]; }}};
}
const boundaryMark = {silent:true, symbol:['none','none'], label:{show:false}, animation:false,
  lineStyle:{color:'#000', width:2.5, type:'solid'}, data:boundaryPositions.map(x=>({xAxis:x}))};

const chart = echarts.init(document.getElementById('chart'), null, {renderer:'canvas'});
chart.setOption({
  animation:false,
  backgroundColor:'#fff',
  grid:[
    {left:74, top:57.5, width:674, height:174},
    {left:74, top:299.5, width:674, height:174},
    {left:790, top:54, width:9, height:181},
    {left:790, top:296, width:9, height:181}
  ],
  xAxis:[posAxis(0), posAxis(1), cbarX(2), cbarX(3), frameX(0), frameX(1)],
  yAxis:[timeAxis(0), timeAxis(1), cbarY(2, attnColorStops, attnTicks, null), cbarY(3, changeColorStops, changeTicks, changeTickLabels), frameY(0), frameY(1)],
  series:[
    {type:'custom', xAxisIndex:0, yAxisIndex:0, renderItem:cellRenderer(attnColorStops), data:attnCells, clip:true, progressive:0, silent:true, z:2},
    {type:'custom', xAxisIndex:1, yAxisIndex:1, renderItem:cellRenderer(changeColorStops), data:changeCells, clip:true, progressive:0, silent:true, z:2},
    {type:'line', xAxisIndex:0, yAxisIndex:0, data:[], z:5, markLine:boundaryMark},
    {type:'line', xAxisIndex:1, yAxisIndex:1, data:[], z:5, markLine:boundaryMark},
    {type:'line', xAxisIndex:1, yAxisIndex:1, data:outlinePath, z:6, showSymbol:false, symbol:'none', clip:false, silent:true,
      lineStyle:{color:'#000', width:3, type:[8,25], cap:'butt'}},
    {type:'custom', xAxisIndex:2, yAxisIndex:2, data:[[0.5,1]], renderItem:colorbarRenderer(attnColorStops), silent:true},
    {type:'custom', xAxisIndex:3, yAxisIndex:3, data:[[0.5,0]], renderItem:colorbarRenderer(changeColorStops), silent:true}
  ],
  graphic:[
    {type:'text', x:199, y:30, style:{text:regionTitles[0], font:'bold 20px "Open Sans"', fill:'#111', align:'center', verticalAlign:'middle'}},
    {type:'text', x:409, y:30, style:{text:regionTitles[1], font:'bold 20px "Open Sans"', fill:'#111', align:'center', verticalAlign:'middle'}},
    {type:'text', x:621, y:30, style:{text:regionTitles[2], font:'bold 20px "Open Sans"', fill:'#111', align:'center', verticalAlign:'middle'}},
    {type:'text', x:106, y:34, style:{text:collectorTitles[0], font:'bold 11px "Open Sans"', lineHeight:16, fill:'#111', align:'center', verticalAlign:'middle'}},
    {type:'text', x:720, y:34, style:{text:collectorTitles[1], font:'bold 11px "Open Sans"', lineHeight:16, fill:'#111', align:'center', verticalAlign:'middle'}},
    {type:'text', x:833, y:144, rotation:Math.PI/2, style:{text:'Attenuation\ncoefficient [1/cm]', font:'14px "DejaVu Sans"', lineHeight:17, fill:TXT, align:'center', verticalAlign:'middle'}},
    {type:'text', x:857, y:388, rotation:Math.PI/2, style:{text:'Change in attenuation\ncoefficient [1/cm]', font:'14px "DejaVu Sans"', lineHeight:16, fill:TXT, align:'center', verticalAlign:'middle'}}
  ]
});
</script>
</body>
</html>
